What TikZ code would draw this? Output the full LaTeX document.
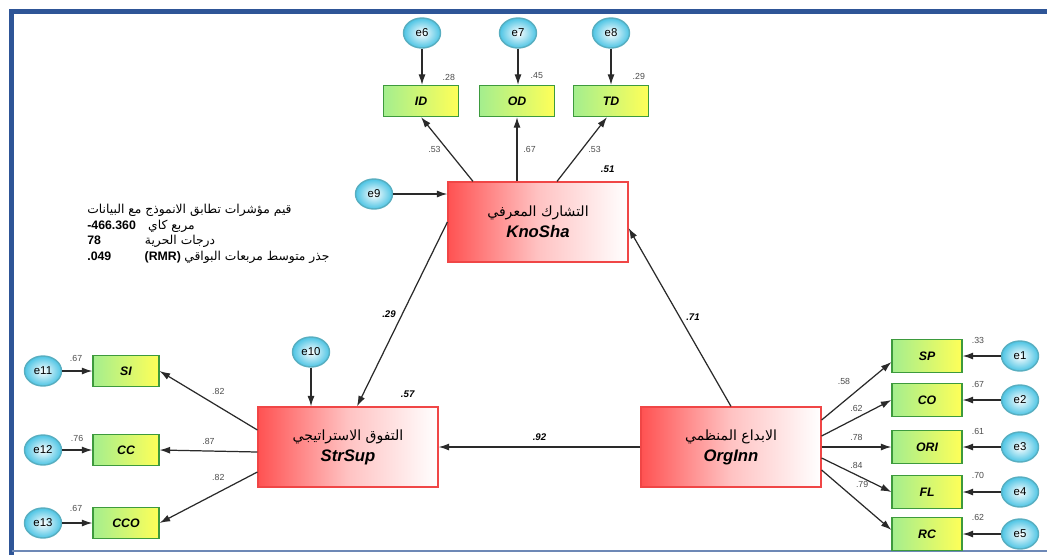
\documentclass[tikz,border=0pt]{standalone}
\usepackage{fontspec}
\setmainfont{Liberation Sans}
\newfontfamily\arabicfont[Script=Arabic]{DejaVu Sans}
\TeXXeTstate=1
\usepackage{tikz}
\usetikzlibrary{calc}
\usetikzlibrary{arrows.meta}
\usetikzlibrary{shapes.geometric}

\definecolor{framebl}{HTML}{2E5597}
\definecolor{errcyan}{HTML}{4CC4E4}
\definecolor{errrim}{HTML}{58AEC0}
\definecolor{indgreen}{HTML}{A4EE8E}
\definecolor{indyel}{HTML}{FFFF58}
\definecolor{indrim}{HTML}{3D9A3D}
\definecolor{latred}{HTML}{FF5252}
\definecolor{latrim}{HTML}{F04646}
\definecolor{linkgray}{HTML}{2A2A2A}

\tikzset{
  err/.style={draw=errrim, line width=0.8pt, ellipse, inner sep=0pt,
    minimum width=0.74cm, minimum height=0.6cm,
    inner color=white, outer color=errcyan, font=\fontsize{6.5}{7}\selectfont},
  ind/.style={draw=indrim, line width=0.7pt, minimum width=1.5cm, minimum height=0.62cm,
    left color=indgreen, right color=indyel, font=\fontsize{7}{8}\selectfont\bfseries\itshape},
  lat/.style={draw=latrim, line width=0.7pt, minimum width=3.6cm, minimum height=1.6cm,
    left color=latred, right color=white, middle color=latred!35!white,
    align=center, font=\fontsize{9.5}{12}\selectfont\bfseries\itshape},
  arlat/.style={font=\arabicfont\fontsize{8}{10}\selectfont\mdseries\upshape},
  link/.style={-{Latex[length=6pt,width=4pt]}, draw=linkgray, line width=0.7pt},
  coef/.style={font=\fontsize{5}{6}\selectfont, text=black!70},
  rlat/.style={font=\fontsize{5.5}{6}\selectfont\bfseries\itshape},
  fitline/.style={anchor=west, inner sep=0pt, font=\fontsize{7}{8}\selectfont\bfseries},
}
\newcommand{\artext}[1]{{\arabicfont\mdseries\upshape\beginR #1\endR}}

\begin{document}
\begin{tikzpicture}[x=0.02cm, y=-0.02cm]
\useasboundingbox (0,0) rectangle (1047,555);

% frame
\draw[framebl, line width=3.4pt] (11.5,555) -- (11.5,11.5) -- (1047,11.5);
\draw[framebl!70, line width=1pt] (11.5,551) -- (1047,551);

% latent variables
\node[lat] (KnoSha) at (538,222) {{\fontsize{8}{10}\selectfont\artext{التشارك المعرفي}}\\KnoSha};
\node[lat] (StrSup) at (348,447) {{\fontsize{8}{10}\selectfont\artext{التفوق الاستراتيجي}}\\StrSup};
\node[lat] (OrgInn) at (731,447) {{\fontsize{8}{10}\selectfont\artext{الابداع المنظمي}}\\OrgInn};

\node[rlat, anchor=south east] (r2kno) at ($(KnoSha.north east)+(-8,-3)$) {.51};
\node[rlat, anchor=south east] (r2str) at ($(StrSup.north east)+(-18,-3)$) {.57};

% indicators
\node[ind] (ID) at (421,101) {ID};
\node[ind] (OD) at (517,101) {OD};
\node[ind] (TD) at (611,101) {TD};

\node[ind, minimum width=1.32cm] (SI) at (126,371) {SI};
\node[ind, minimum width=1.32cm] (CC) at (126,450) {CC};
\node[ind, minimum width=1.32cm] (CCO) at (126,523) {CCO};

\node[ind, minimum width=1.4cm, minimum height=0.66cm] (SP) at (927,356) {SP};
\node[ind, minimum width=1.4cm, minimum height=0.66cm] (CO) at (927,400) {CO};
\node[ind, minimum width=1.4cm, minimum height=0.66cm] (ORI) at (927,447) {ORI};
\node[ind, minimum width=1.4cm, minimum height=0.66cm] (FL) at (927,492) {FL};
\node[ind, minimum width=1.4cm, minimum height=0.66cm] (RC) at (927,534) {RC};

% squared multiple correlations
\node[coef, anchor=south east] (r2id) at ($(ID.north east)+(2,2)$) {.28};
\node[coef, anchor=south east] (r2od) at ($(OD.north east)+(-6,0)$) {.45};
\node[coef, anchor=south east] (r2td) at ($(TD.north east)+(2,1)$) {.29};
\node[coef, anchor=east] (r2si) at ($(SI.north west)+(-4,4)$) {.67};
\node[coef, anchor=east] (r2cc) at ($(CC.north west)+(-3,5)$) {.76};
\node[coef, anchor=east] (r2cco) at ($(CCO.north west)+(-4,2)$) {.67};
\node[coef, anchor=west] (r2sp) at ($(SP.north east)+(3,2)$) {.33};
\node[coef, anchor=west] (r2co) at ($(CO.north east)+(3,2)$) {.67};
\node[coef, anchor=west] (r2ori) at ($(ORI.north east)+(3,2)$) {.61};
\node[coef, anchor=west] (r2fl) at ($(FL.north east)+(3,1)$) {.70};
\node[coef, anchor=west] (r2rc) at ($(RC.north east)+(3,1)$) {.62};

% errors
\node[err] (e6) at (422,33) {e6};
\node[err] (e7) at (518,33) {e7};
\node[err] (e8) at (611,33) {e8};
\node[err] (e9) at (374,194) {e9};
\node[err] (e10) at (311,352) {e10};
\node[err] (e11) at (43,371) {e11};
\node[err] (e12) at (43,450) {e12};
\node[err] (e13) at (43,523) {e13};
\node[err] (e1) at (1020,356) {e1};
\node[err] (e2) at (1020,400) {e2};
\node[err] (e3) at (1020,447) {e3};
\node[err] (e4) at (1020,492) {e4};
\node[err] (e5) at (1020,534) {e5};

\draw[link] (e6) -- (e6 |- ID.north);
\draw[link] (e7) -- (e7 |- OD.north);
\draw[link] (e8) -- (e8 |- TD.north);
\draw[link] (e9) -- (e9 -| KnoSha.west);
\draw[link] (e10) -- (e10 |- StrSup.north);
\draw[link] (e11) -- (SI);
\draw[link] (e12) -- (CC);
\draw[link] (e13) -- (CCO);
\draw[link] (e1) -- (SP);
\draw[link] (e2) -- (CO);
\draw[link] (e3) -- (ORI);
\draw[link] (e4) -- (FL);
\draw[link] (e5) -- (RC);

% loadings
\draw[link] ($(KnoSha.north)+(-65,0)$) -- (ID.south) node[midway, left, coef] {.53};
\draw[link] (KnoSha.north -| OD) -- (OD.south) node[midway, right, coef] {.67};
\draw[link] ($(KnoSha.north)+(19,0)$) -- ($(TD.south)+(-4,0)$) node[midway, right, coef] {.53};

\draw[link] ($(StrSup.west)+(0,-17)$) -- (SI.east) node[pos=0.4, above=3pt, coef] {.82};
\draw[link] ($(StrSup.west)+(0,5)$) -- (CC.east) node[midway, above, coef] {.87};
\draw[link] ($(StrSup.west)+(0,25)$) -- (CCO.east) node[pos=0.4, above=3pt, coef] {.82};

\draw[link] ($(OrgInn.east)+(0,-27)$) -- ($(SP.west)+(0,6)$) node[midway, above left, coef] {.58};
\draw[link] ($(OrgInn.east)+(0,-11)$) -- (CO.west) node[midway, above, coef] {.62};
\draw[link] (OrgInn.east) -- (ORI.west) node[midway, above, coef] {.78};
\draw[link] ($(OrgInn.east)+(0,11)$) -- (FL.west) node[midway, above, coef] {.84};
\draw[link] ($(OrgInn.east)+(0,23)$) -- ($(RC.west)+(0,-4)$) node[pos=0.4, above right, coef] {.79};

% structural paths
\draw[link] (KnoSha.west) -- ($(StrSup.north)+(9,0)$) node[midway, left, rlat] {.29};
\draw[link] (OrgInn.north) -- ($(KnoSha.east)+(0,6)$) node[midway, right, rlat] {.71};
\draw[link] (OrgInn.west) -- (StrSup.east) node[midway, above, rlat] {.92};

% fit indices
\node[fitline] (fithead) at (87,210) {\artext{قيم مؤشرات تطابق الانموذج مع البيانات}};
\node[fitline] (chisq) at (87,226) {-466.360\hspace{7pt}\artext{مربع كاي}};
\node[fitline] (dfree) at (87,241) {78\hspace{25pt}\artext{درجات الحرية}};
\node[fitline] (rmr) at (87,257) {.049\hspace{19pt}(RMR) \artext{جذر متوسط مربعات البواقي}};
\end{tikzpicture}
\end{document}
